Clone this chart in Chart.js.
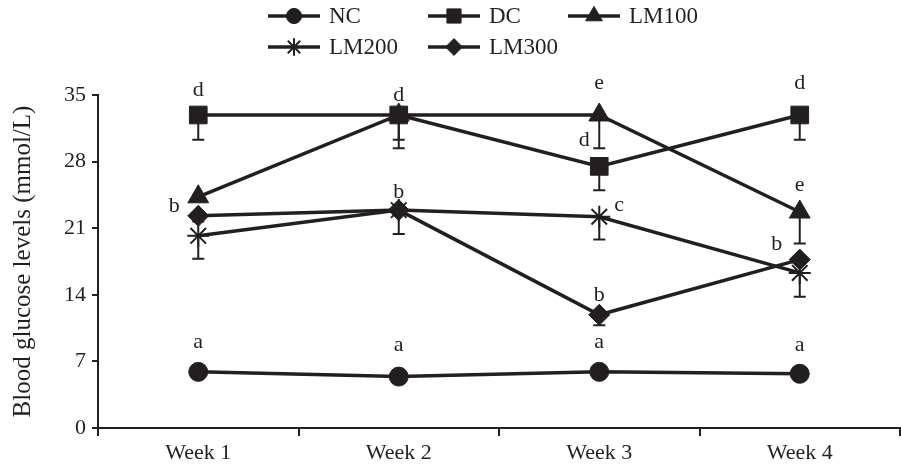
<!DOCTYPE html>
<html>
<head>
<meta charset="utf-8">
<script src="https://cdn.jsdelivr.net/npm/chart.js@4/dist/chart.umd.min.js"></script>
<style>
    html, body { margin: 0; padding: 0; background: white; }
    #wrap { width: 901px; height: 472px; }
</style>
</head>
<body>
<div id="wrap"><canvas id="glucoseChart"></canvas></div>
<script>
const weeks = ['Week 1', 'Week 2', 'Week 3', 'Week 4'];
const seriesNames = ['NC', 'DC', 'LM100', 'LM200', 'LM300'];

const ncValues = [5.9, 5.4, 5.9, 5.7];
const dcValues = [32.9, 32.9, 27.5, 32.9];
const lm100Values = [24.3, 32.9, 32.9, 22.7];
const lm200Values = [20.2, 22.9, 22.2, 16.3];
const lm300Values = [22.3, 22.9, 11.9, 17.7];

// lower error (SD) per point
const ncErrors = [0, 0, 0, 0];
const dcErrors = [2.6, 3.5, 2.5, 2.6];
const lm100Errors = [0, 2.6, 3.5, 3.3];
const lm200Errors = [2.4, 2.5, 2.4, 2.5];
const lm300Errors = [0.6, 0, 1.1, 0];

const yTicks = [0, 7, 14, 21, 28, 35];

// [series index, week index, letter]
const sigLetters = [
    [1, 0, 'd'], [1, 1, 'd'], [2, 2, 'e'], [1, 3, 'd'],
    [2, 0, 'b'], [4, 1, 'b'], [1, 2, 'd'], [3, 2, 'c'],
    [2, 3, 'e'], [4, 3, 'b'], [4, 2, 'b'],
    [0, 0, 'a'], [0, 1, 'a'], [0, 2, 'a'], [0, 3, 'a']
];

const serifFont = 'Liberation Serif';
const ink = '#231f20';

const pointStyles = ['circle', 'rect', 'triangle', 'star', 'rectRot'];
const pointRadii = [9.5, 12.5, 12, 11, 10.5];
const allErrors = [ncErrors, dcErrors, lm100Errors, lm200Errors, lm300Errors];

// pixel offsets for the letters, same order as sigLetters
const letterOffsets = [
    [0, -25], [0, -20], [0, -32], [0, -32],
    [-24, 9], [0, -18], [-15, -26], [20, -12],
    [0, -27], [-23, -15], [0, -20],
    [0, -30], [0, -31], [0, -30], [0, -29]
];

function makeDataset(i, values) {
    return {
        label: seriesNames[i],
        data: values,
        borderColor: ink,
        backgroundColor: ink,
        borderWidth: 3.5,
        pointStyle: pointStyles[i],
        pointRadius: pointRadii[i],
        pointHoverRadius: pointRadii[i],
        pointBackgroundColor: ink,
        pointBorderColor: ink,
        pointBorderWidth: pointStyles[i] === 'star' ? 2 : 1,
        tension: 0
    };
}

const errorBarPlugin = {
    id: 'errorBars',
    beforeDatasetsDraw(chart) {
        const ctx = chart.ctx;
        const y = chart.scales.y;
        ctx.save();
        ctx.strokeStyle = ink;
        ctx.lineWidth = 2;
        chart.data.datasets.forEach((ds, i) => {
            const meta = chart.getDatasetMeta(i);
            meta.data.forEach((pt, j) => {
                const err = allErrors[i][j];
                if (!err) return;
                const yLow = y.getPixelForValue(ds.data[j] - err);
                ctx.beginPath();
                ctx.moveTo(pt.x, pt.y);
                ctx.lineTo(pt.x, yLow);
                ctx.moveTo(pt.x - 6, yLow);
                ctx.lineTo(pt.x + 6, yLow);
                ctx.stroke();
            });
        });
        ctx.restore();
    }
};

const letterPlugin = {
    id: 'sigLetters',
    afterDatasetsDraw(chart) {
        const ctx = chart.ctx;
        ctx.save();
        ctx.fillStyle = ink;
        ctx.font = '22px "' + serifFont + '"';
        ctx.textAlign = 'center';
        ctx.textBaseline = 'middle';
        sigLetters.forEach((item, k) => {
            const pt = chart.getDatasetMeta(item[0]).data[item[1]];
            ctx.fillText(item[2], pt.x + letterOffsets[k][0], pt.y + letterOffsets[k][1]);
        });
        ctx.restore();
    }
};

const legendPlugin = {
    id: 'lineLegend',
    afterDraw(chart) {
        const ctx = chart.ctx;
        const cols = [268, 428, 568];
        const rows = [16, 47];
        ctx.save();
        ctx.font = '23px "' + serifFont + '"';
        ctx.textBaseline = 'middle';
        ctx.textAlign = 'left';
        seriesNames.forEach((name, i) => {
            const x = cols[i % 3];
            const yy = rows[Math.floor(i / 3)];
            ctx.strokeStyle = ink;
            ctx.fillStyle = ink;
            ctx.lineWidth = 3.5;
            ctx.beginPath();
            ctx.moveTo(x, yy);
            ctx.lineTo(x + 52, yy);
            ctx.stroke();
            ctx.lineWidth = pointStyles[i] === 'star' ? 2 : 1;
            Chart.helpers.drawPoint(ctx, {
                pointStyle: pointStyles[i],
                radius: pointRadii[i] * 0.8,
                rotation: 0,
                borderWidth: ctx.lineWidth
            }, x + 26, yy);
            ctx.fillStyle = ink;
            ctx.fillText(name, x + 61, yy + 1);
        });
        ctx.restore();
    }
};

const glucoseCtx = document.getElementById('glucoseChart').getContext('2d');
const glucoseChart = new Chart(glucoseCtx, {
    type: 'line',
    data: {
        labels: weeks,
        datasets: [
            makeDataset(0, ncValues),
            makeDataset(1, dcValues),
            makeDataset(2, lm100Values),
            makeDataset(3, lm200Values),
            makeDataset(4, lm300Values)
        ]
    },
    options: {
        responsive: true,
        maintainAspectRatio: false,
        animation: false,
        layout: {
            autoPadding: false,
            padding: { top: 95, right: 1, left: 0, bottom: 0 }
        },
        scales: {
            x: {
                offset: true,
                grid: {
                    offset: true,
                    drawOnChartArea: false,
                    drawTicks: true,
                    tickLength: 8,
                    color: ink,
                    lineWidth: 2
                },
                border: { color: ink, width: 2 },
                ticks: {
                    color: ink,
                    padding: 4,
                    font: { family: serifFont, size: 22 }
                },
                afterFit(scale) { scale.height = 44; }
            },
            y: {
                min: 0,
                max: 35,
                afterBuildTicks(scale) {
                    scale.ticks = yTicks.map(v => ({ value: v }));
                },
                grid: {
                    drawOnChartArea: false,
                    drawTicks: true,
                    tickLength: 6,
                    color: ink,
                    lineWidth: 2
                },
                border: { color: ink, width: 2 },
                ticks: {
                    color: ink,
                    padding: 6,
                    font: { family: serifFont, size: 22 }
                },
                title: {
                    display: true,
                    text: 'Blood glucose levels (mmol/L)',
                    color: ink,
                    padding: { top: 8, bottom: 0 },
                    font: { family: serifFont, size: 25 }
                },
                afterFit(scale) { scale.width = 98; }
            }
        },
        plugins: {
            legend: { display: false },
            tooltip: { enabled: false }
        }
    },
    plugins: [errorBarPlugin, letterPlugin, legendPlugin]
});
</script>
</body>
</html>
